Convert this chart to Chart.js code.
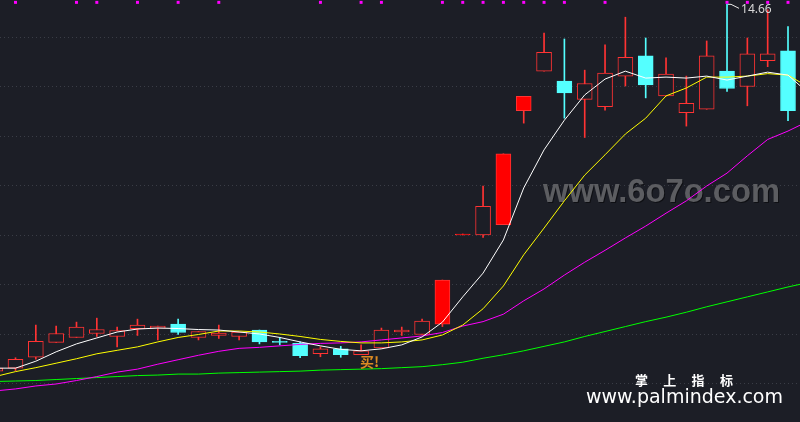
<!DOCTYPE html>
<html>
<head>
<meta charset="utf-8">
<script src="https://cdn.jsdelivr.net/npm/chart.js@4.4.0/dist/chart.umd.min.js"></script>
<style>
  html, body { margin: 0; padding: 0; background: #1c1e26; overflow: hidden; }
  canvas { display: block; }
</style>
</head>
<body>
<canvas id="kline" width="800" height="422"></canvas>
<script>
// day index, -1 is the candle cut off at the left edge, 39 only carries the averages
const days = [-1, 0, 1, 2, 3, 4, 5, 6, 7, 8, 9, 10, 11, 12, 13, 14, 15, 16, 17, 18, 19,
  20, 21, 22, 23, 24, 25, 26, 27, 28, 29, 30, 31, 32, 33, 34, 35, 36, 37, 38, 39]

const opens = [7.25, 7.31, 7.53, 7.83, 7.93, 8.01, 7.95, 8.11, 8.12, 8.20, 7.93, 7.97, 7.95, 8.08, 7.83, 7.81, 7.60, 7.70, 7.58, 7.72,
  8.04, 7.99, 8.20, 10.00, 10.00, 10.21, 12.51, 13.31, 13.11, 12.74, 12.59, 13.21, 13.62, 12.81, 12.47, 12.54, 13.31, 13.00, 13.52, 13.72]
const highs = [7.35, 7.52, 8.18, 8.16, 8.24, 8.32, 8.14, 8.30, 8.16, 8.30, 8.05, 8.18, 8.04, 8.08, 7.93, 7.84, 7.74, 7.75, 7.78, 8.12,
  8.14, 8.30, 9.09, 10.00, 10.99, 11.64, 12.80, 14.08, 13.96, 13.33, 13.84, 14.40, 13.98, 13.58, 13.21, 13.92, 14.66, 13.98, 14.55, 14.21]
const lows = [7.21, 7.26, 7.49, 7.83, 7.93, 7.95, 7.74, 7.97, 7.88, 7.99, 7.88, 7.91, 7.88, 7.80, 7.78, 7.52, 7.54, 7.53, 7.58, 7.71,
  7.97, 7.99, 8.15, 10.00, 9.95, 10.21, 12.26, 13.31, 12.36, 11.97, 12.52, 13.01, 12.77, 12.81, 12.20, 12.54, 12.90, 12.61, 13.40, 12.31]
const closes = [7.31, 7.49, 7.85, 8.01, 8.14, 8.09, 8.07, 8.18, 8.16, 8.03, 8.05, 8.02, 8.04, 7.84, 7.83, 7.56, 7.70, 7.58, 7.66, 8.08,
  8.08, 8.26, 9.09, 10.00, 10.58, 11.64, 12.80, 13.69, 12.87, 13.06, 13.27, 13.59, 13.03, 13.25, 12.66, 13.62, 12.96, 13.66, 13.66, 12.51]

const ma5 = [7.31, 7.31, 7.45, 7.64, 7.80, 7.92, 8.04, 8.10, 8.12, 8.11, 8.09, 8.08, 8.04, 8.00, 7.93, 7.84, 7.76, 7.69, 7.66, 7.70,
  7.78, 7.94, 8.24, 8.75, 9.23, 9.90, 10.95, 11.72, 12.32, 12.83, 13.15, 13.31, 13.17, 13.19, 13.17, 13.21, 13.13, 13.21, 13.29, 13.23, 12.87]
const ma10 = [7.14, 7.24, 7.32, 7.41, 7.50, 7.60, 7.67, 7.74, 7.84, 7.93, 7.99, 8.06, 8.06, 8.04, 8.00, 7.95, 7.89, 7.85, 7.82, 7.82,
  7.84, 7.88, 7.98, 8.18, 8.51, 8.97, 9.60, 10.14, 10.69, 11.21, 11.62, 12.04, 12.36, 12.81, 12.97, 13.19, 13.19, 13.21, 13.26, 13.23, 12.99]
const ma20 = [6.85, 6.89, 6.95, 6.99, 7.06, 7.14, 7.23, 7.29, 7.39, 7.48, 7.57, 7.65, 7.71, 7.73, 7.76, 7.79, 7.81, 7.82, 7.84, 7.88,
  7.92, 7.96, 8.03, 8.16, 8.25, 8.40, 8.67, 8.91, 9.19, 9.45, 9.69, 9.94, 10.18, 10.44, 10.69, 10.99, 11.25, 11.60, 11.93, 12.10, 12.30]
const ma60 = [7.04, 7.05, 7.06, 7.08, 7.10, 7.12, 7.14, 7.16, 7.17, 7.19, 7.19, 7.21, 7.22, 7.23, 7.24, 7.25, 7.27, 7.28, 7.29, 7.30,
  7.32, 7.34, 7.38, 7.43, 7.51, 7.58, 7.66, 7.75, 7.84, 7.95, 8.05, 8.15, 8.25, 8.34, 8.44, 8.55, 8.65, 8.75, 8.85, 8.95, 9.04]

// magenta signal squares along the top edge
const signalDays = [0, 3, 4, 6, 8, 10, 15, 17, 18, 21, 22, 23, 24, 25, 26, 27, 29, 35, 36, 37, 38]
const signalLevel = 14.70

const peakDay = 35
const buyDay = 17

const RED = '#ff3333'
const RED_FILL = '#ff0000'
const CYAN = '#54ffff'
const BG = '#1c1e26'

const candleDays = days.slice(0, closes.length)

function isUp(i) {
  if (closes[i] > opens[i]) return true
  if (closes[i] < opens[i]) return false
  return i === 0 || closes[i] >= closes[i - 1]
}

function isLimitUp(i) {
  return i > 0 && closes[i] / closes[i - 1] >= 1.095
}

const bodyFill = candleDays.map((d, i) => isUp(i) ? (isLimitUp(i) ? RED_FILL : BG) : CYAN)
const lineColor = candleDays.map((d, i) => isUp(i) ? RED : CYAN)

function series(values) {
  return values.map((v, i) => ({ x: days[i], y: v }))
}

const overlayPlugin = {
  id: 'overlay',
  beforeDatasetsDraw(chart) {
    const ctx = chart.ctx
    const y = chart.scales.y
    const area = chart.chartArea
    ctx.save()
    // dotted price grid
    ctx.strokeStyle = '#3a3d46'
    ctx.lineWidth = 1
    ctx.setLineDash([1, 3])
    for (let p = Math.ceil(y.min); p <= Math.floor(y.max); p++) {
      const gy = Math.round(y.getPixelForValue(p)) + 0.5
      ctx.beginPath()
      ctx.moveTo(area.left, gy)
      ctx.lineTo(area.right, gy)
      ctx.stroke()
    }
    ctx.setLineDash([])
    ctx.font = 'bold 33px "Liberation Sans"'
    ctx.fillStyle = '#5c5d61'
    ctx.textBaseline = 'alphabetic'
    ctx.shadowColor = 'rgba(0,0,0,0.5)'
    ctx.shadowOffsetX = 1
    ctx.shadowOffsetY = 1
    ctx.fillText('www.6o7o.com', 543, 202, 237)
    ctx.restore()
  },
  afterDatasetsDraw(chart) {
    const ctx = chart.ctx
    const x = chart.scales.x
    const y = chart.scales.y

    // highest price flag
    const hi = highs[candleDays.indexOf(peakDay)]
    const px = x.getPixelForValue(peakDay)
    const py = y.getPixelForValue(hi)
    ctx.save()
    ctx.strokeStyle = '#e8e8e8'
    ctx.lineWidth = 1
    ctx.beginPath()
    ctx.moveTo(px + 1, py)
    ctx.lineTo(px + 4, py)
    ctx.lineTo(px + 12, py + 4)
    ctx.stroke()
    ctx.font = '12px "Noto Sans"'
    ctx.fillStyle = '#d8d8d8'
    ctx.textBaseline = 'middle'
    ctx.fillText(hi.toFixed(2), px + 14, py + 5.5)

    // buy signal
    const bx = x.getPixelForValue(buyDay)
    const by = y.getPixelForValue(lows[candleDays.indexOf(buyDay)])
    ctx.font = 'bold 14px "Noto Sans CJK SC"'
    ctx.fillStyle = '#dc8a22'
    ctx.textBaseline = 'middle'
    ctx.fillText('买!', bx - 1, by + 6.5)
    ctx.restore()
  },
  afterDraw(chart) {
    const ctx = chart.ctx
    ctx.save()
    ctx.fillStyle = '#ffffff'
    ctx.textBaseline = 'middle'
    ctx.textAlign = 'center'
    ctx.font = 'bold 13px "Noto Sans CJK SC"'
    const brand = ['掌', '上', '指', '标']
    brand.forEach((ch, i) => ctx.fillText(ch, 641.5 + i * 28.3, 380))
    ctx.textAlign = 'left'
    ctx.textBaseline = 'alphabetic'
    ctx.font = '19px "DejaVu Sans"'
    ctx.fillText('www.palmindex.com', 586, 403)
    ctx.restore()
  }
}

new Chart(document.getElementById('kline'), {
  type: 'bar',
  data: {
    datasets: [
      {
        label: 'MA5',
        type: 'line',
        data: series(ma5),
        borderColor: '#ffffff',
        borderWidth: 1,
        pointRadius: 0,
        tension: 0,
        order: 0
      },
      {
        label: 'MA10',
        type: 'line',
        data: series(ma10),
        borderColor: '#ffff00',
        borderWidth: 1,
        pointRadius: 0,
        tension: 0,
        order: 0
      },
      {
        label: 'MA20',
        type: 'line',
        data: series(ma20),
        borderColor: '#ff00ff',
        borderWidth: 1,
        pointRadius: 0,
        tension: 0,
        order: 0
      },
      {
        label: 'MA60',
        type: 'line',
        data: series(ma60),
        borderColor: '#00ff00',
        borderWidth: 1,
        pointRadius: 0,
        tension: 0,
        order: 0
      },
      {
        label: 'signal',
        type: 'line',
        data: signalDays.map(d => ({ x: d, y: signalLevel })),
        showLine: false,
        pointStyle: 'rect',
        pointRadius: 2.1,
        pointBorderWidth: 0,
        pointBackgroundColor: '#ff00ff',
        order: 0
      },
      {
        label: 'body',
        data: candleDays.map((d, i) => ({ x: d, y: [opens[i], closes[i]] })),
        backgroundColor: bodyFill,
        borderColor: lineColor,
        borderWidth: 1,
        borderSkipped: false,
        barThickness: 15,
        minBarLength: 1,
        grouped: false,
        order: 1
      },
      {
        label: 'wick',
        data: candleDays.map((d, i) => ({ x: d, y: [lows[i], highs[i]] })),
        backgroundColor: lineColor,
        borderWidth: 0,
        barThickness: 1,
        minBarLength: 1,
        grouped: false,
        order: 2
      }
    ]
  },
  options: {
    responsive: false,
    animation: false,
    events: [],
    layout: { padding: 0, autoPadding: false },
    plugins: {
      legend: { display: false },
      tooltip: { enabled: false }
    },
    scales: {
      x: {
        type: 'linear',
        min: -0.7625,
        max: 38.59,
        offset: false,
        display: false
      },
      y: {
        type: 'linear',
        min: 6.222,
        max: 14.7475,
        display: false
      }
    }
  },
  plugins: [overlayPlugin]
})
</script>
</body>
</html>
